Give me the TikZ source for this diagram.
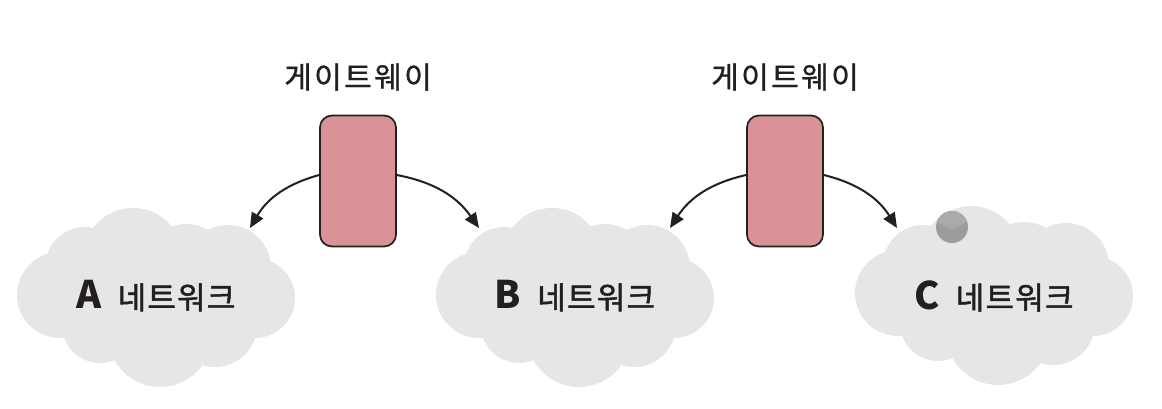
\documentclass[tikz,border=0pt]{standalone}
\usepackage{fontspec}
\newfontfamily\krfont{Noto Sans CJK KR}
\usetikzlibrary{arrows.meta}
\definecolor{cloudgray}{HTML}{E6E6E6}
\definecolor{gwpink}{HTML}{DB9198}
\definecolor{inkdark}{HTML}{231F20}
\definecolor{dotgray}{HTML}{9C9C9C}
\definecolor{dotlight}{HTML}{AAAAAA}
\newcommand{\netletter}[1]{{\fontsize{38}{42}\selectfont\bfseries #1}}
\newcommand{\netword}{{\addfontfeature{LetterSpace=4,FakeBold=1.6}네트워크}}
\tikzset{
  gwbox/.style={draw=inkdark, line width=1.7pt, fill=gwpink, rounded corners=12pt,
    minimum width=76pt, minimum height=131pt, inner sep=0pt},
  gwlabel/.style={font=\krfont\fontsize{30}{34}\selectfont\addfontfeature{LetterSpace=8,FakeBold=1},
    text=inkdark, inner sep=0pt},
  netlabel/.style={font=\krfont\fontsize{31}{34}\selectfont, text=inkdark, inner sep=0pt},
  flow/.style={draw=inkdark, line width=2pt, -{Triangle[length=15pt,width=13pt]}},
}
% one cloud outline, built as a union of discs around the origin
\newcommand{\cloudblob}{%
  \fill[cloudgray]
    (-23,-39) circle (50)
    (-71,-30) circle (40)
    (72,-29) circle (43)
    (30,-28) circle (45)
    (99,1) circle (40)
    (-96,-2) circle (43)
    (-56,28) circle (38)
    (4,38) circle (52)
    (59,28) circle (42)
    (0,0) ellipse (100 and 45);
}
\begin{document}
\begin{tikzpicture}[x=1pt,y=-1pt]
\useasboundingbox (0,0) rectangle (1162,408);

% clouds
\begin{scope}[shift={(156,297)}]\cloudblob\end{scope}
\begin{scope}[shift={(575,297)}]\cloudblob\end{scope}
\begin{scope}[shift={(994,295)}]\cloudblob\end{scope}

% marker dot on the C network
\begin{scope}
  \fill[dotgray] (952,227) circle (16);
  \clip (952,227) circle (16);
  \fill[dotlight] (930,205) -- (974,205) -- (974,218) -- (952,230) -- (930,218) -- cycle;
\end{scope}

% network labels
\node[netlabel] (netA) at (156,296) {\netletter{A}\hspace{16pt}\netword};
\node[netlabel] (netB) at (575,296) {\netletter{B}\hspace{16pt}\netword};
\node[netlabel] (netC) at (994,296) {\netletter{C}\hspace{16pt}\netword};

% gateways
\node[gwbox] (gw1) at (358,181) {};
\node[gwbox] (gw2) at (785,181) {};
\node[gwlabel] (gw1l) at (358,77) {게이트웨이};
\node[gwlabel] (gw2l) at (785,77) {게이트웨이};

% arrow tips at the clouds
\coordinate (tipA) at (250,228);
\coordinate (tipB1) at (479,228);
\coordinate (tipB2) at (670,228);
\coordinate (tipC) at (897,228);

\draw[flow] ([yshift=6pt]gw1.west) to[bend right=22] (tipA);
\draw[flow] ([yshift=6pt]gw1.east) to[bend left=22] (tipB1);
\draw[flow] ([yshift=6pt]gw2.west) to[bend right=22] (tipB2);
\draw[flow] ([yshift=6pt]gw2.east) to[bend left=22] (tipC);
\end{tikzpicture}
\end{document}
